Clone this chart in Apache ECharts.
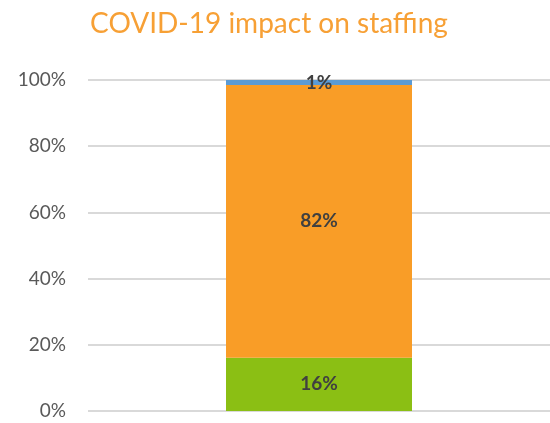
<!DOCTYPE html>
<html>
<head>
<meta charset="utf-8">
<script src="https://cdn.jsdelivr.net/npm/echarts@6/dist/echarts.min.js"></script>
<style>
  html, body { margin: 0; padding: 0; background: #fff; }
  #chart { width: 550px; height: 423px; }
</style>
</head>
<body>
<div id="chart"></div>
<script>
// 数据
const categories = ['Staffing'];
const notAffected = [16.1];   // 绿色
const affected = [82.4];      // 橙色
const other = [1.49];         // 蓝色
const yTicks = [0, 20, 40, 60, 80, 100];

const labelStyle = {
  show: true,
  position: 'inside',
  color: '#404040',
  fontWeight: 'bold',
  fontSize: 19,
  fontFamily: 'Lato',
  formatter: p => Math.round(p.value) + '%'
};

let chart = echarts.init(document.getElementById('chart'));
chart.setOption({
  animation: false,
  title: {
    text: 'COVID-19 impact on staffing',
    left: 264,
    textAlign: 'center',
    top: 5,
    textStyle: { color: '#F7A035', fontSize: 28, fontWeight: 'normal', fontFamily: 'Lato' }
  },
  grid: { left: 88, right: 0, top: 80, bottom: 12 },
  xAxis: {
    type: 'category',
    data: categories,
    axisLine: { show: false },
    axisTick: { show: false },
    axisLabel: { show: false }
  },
  yAxis: {
    type: 'value',
    min: yTicks[0],
    max: yTicks[yTicks.length - 1],
    interval: 20,
    axisLine: { show: false },
    axisTick: { show: false },
    axisLabel: { formatter: '{value}%', color: '#595959', fontSize: 19, fontFamily: 'Lato', margin: 22 },
    splitLine: { lineStyle: { color: '#D9D9D9', width: 2 } }
  },
  series: [
    { type: 'bar', stack: 'a', data: notAffected, barWidth: 186, itemStyle: { color: '#8BBF14' }, label: labelStyle },
    { type: 'bar', stack: 'a', data: affected, barWidth: 186, itemStyle: { color: '#F99D27' }, label: labelStyle },
    { type: 'bar', stack: 'a', data: other, barWidth: 186, itemStyle: { color: '#5B9BD5' }, label: labelStyle }
  ]
});
</script>
</body>
</html>
